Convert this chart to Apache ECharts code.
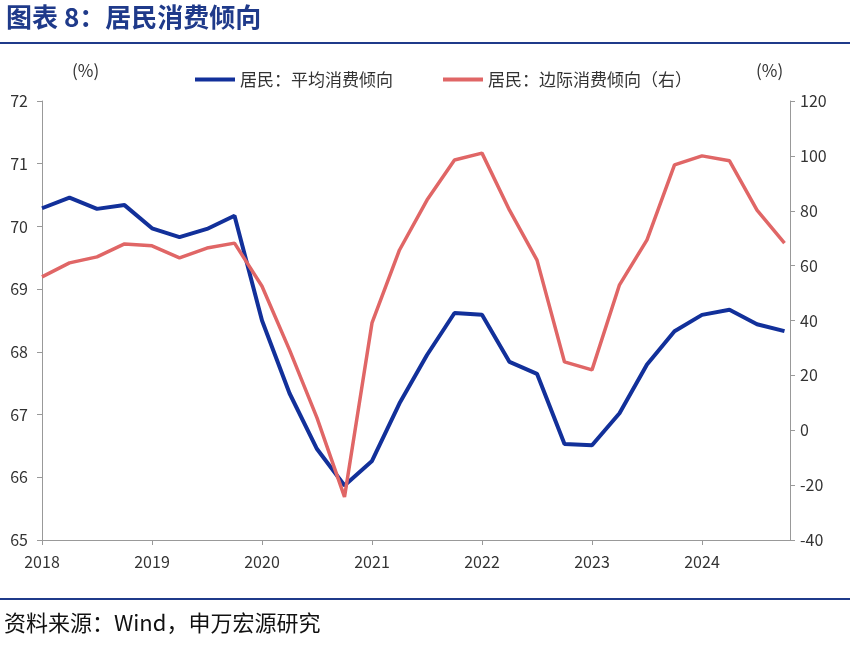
<!DOCTYPE html>
<html>
<head>
<meta charset="utf-8">
<script src="https://cdn.jsdelivr.net/npm/echarts@6/dist/echarts.min.js"></script>
<style>body{margin:0}#chart{width:850px;height:658px}</style>
</head>
<body>
<div id="chart"></div>
<script>
const quarters = ['2018Q1','2018Q2','2018Q3','2018Q4','2019Q1','2019Q2','2019Q3','2019Q4',
    '2020Q1','2020Q2','2020Q3','2020Q4','2021Q1','2021Q2','2021Q3','2021Q4',
    '2022Q1','2022Q2','2022Q3','2022Q4','2023Q1','2023Q2','2023Q3','2023Q4',
    '2024Q1','2024Q2','2024Q3','2024Q4']
const avgPropensity = [70.29, 70.46, 70.28, 70.34, 69.97, 69.83, 69.96, 70.17,
    68.5, 67.34, 66.45, 65.87, 66.26, 67.18, 67.95, 68.62,
    68.59, 67.84, 67.65, 66.53, 66.51, 67.02, 67.8, 68.33,
    68.59, 68.67, 68.44, 68.33]
const marginalPropensity = [55.9, 61, 63.2, 67.9, 67.2, 62.8, 66.4, 68.2,
    52.5, 29.3, 4.5, -24.3, 39.1, 65.7, 83.9, 98.5,
    101, 80.2, 62, 24.9, 22, 53, 69.4, 96.7,
    100, 98.2, 80.2, 68.2]

// 季度转成横轴位置
const xPos = q => Number(q.slice(0, 4)) + (Number(q.slice(5)) - 1) / 4

const chart = echarts.init(document.getElementById('chart'))
const font = '"Noto Sans CJK SC", sans-serif'
const option = {
    textStyle: {fontFamily: font},
    animation: false,
    graphic: [
        {type: 'text', left: 6, top: 4, style: {text: '图表 8：居民消费倾向', fontSize: 26, fontWeight: 'bold', fill: '#1f3a8a', fontFamily: font}},
        {type: 'rect', shape: {x: 0, y: 42, width: 850, height: 2}, style: {fill: '#1f3a8a'}},
        {type: 'rect', shape: {x: 0, y: 598, width: 850, height: 2}, style: {fill: '#1f3a8a'}},
        {type: 'text', left: 4, top: 612, style: {text: '资料来源：Wind，申万宏源研究', fontSize: 22, fill: '#111', fontFamily: font}},
        {type: 'text', left: 72, top: 62, style: {text: '(%)', fontSize: 17, fill: '#333', fontFamily: font}},
        {type: 'text', left: 756, top: 62, style: {text: '(%)', fontSize: 17, fill: '#333', fontFamily: font}}
    ],
    legend: {
        top: 66, left: 190, itemWidth: 40, itemHeight: 4, itemGap: 50,
        textStyle: {fontSize: 17, color: '#333'},
        data: [{name: '居民：平均消费倾向', icon: 'rect'}, {name: '居民：边际消费倾向（右）', icon: 'rect'}]
    },
    grid: {left: 42, right: 60, top: 101, bottom: 118},
    xAxis: {
        type: 'value', min: 2018, max: 2024.8, interval: 1,
        axisLine: {onZero: false, lineStyle: {color: '#999'}},
        axisTick: {show: true, length: 5, lineStyle: {color: '#999'}},
        splitLine: {show: false},
        axisLabel: {fontSize: 16, color: '#333', margin: 14, formatter: v => Number.isInteger(v) ? String(v) : '', showMaxLabel: false}
    },
    yAxis: [
        {
            type: 'value', min: 65, max: 72, interval: 1, position: 'left',
            axisLine: {show: true, lineStyle: {color: '#999'}},
            axisTick: {show: true, lineStyle: {color: '#999'}},
            splitLine: {show: false},
            axisLabel: {fontSize: 16, color: '#333', margin: 14}
        },
        {
            type: 'value', min: -40, max: 120, interval: 20, position: 'right',
            axisLine: {show: true, lineStyle: {color: '#999'}},
            axisTick: {show: true, lineStyle: {color: '#999'}},
            splitLine: {show: false},
            axisLabel: {fontSize: 16, color: '#333', margin: 10}
        }
    ],
    series: [
        {
            name: '居民：平均消费倾向', type: 'line', yAxisIndex: 0, symbol: 'none',
            lineStyle: {width: 4, color: '#12309a'}, itemStyle: {color: '#12309a'},
            data: quarters.map((q, i) => [xPos(q), avgPropensity[i]])
        },
        {
            name: '居民：边际消费倾向（右）', type: 'line', yAxisIndex: 1, symbol: 'none',
            lineStyle: {width: 3.5, color: '#e06666'}, itemStyle: {color: '#e06666'},
            data: quarters.map((q, i) => [xPos(q), marginalPropensity[i]])
        }
    ]
}
chart.setOption(option)
</script>
</body>
</html>
